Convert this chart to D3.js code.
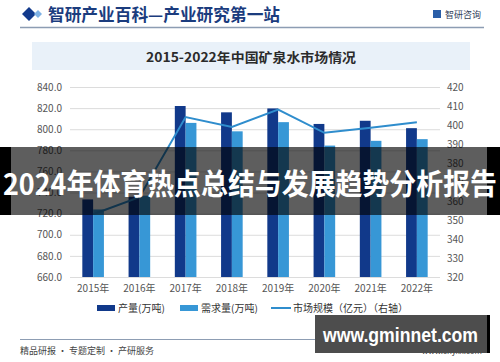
<!DOCTYPE html>
<html>
<head>
<meta charset="utf-8">
<script src="https://cdn.jsdelivr.net/npm/d3@7"></script>
<style>
  body { margin: 0; background: #fff; }
  svg { display: block; font-family: "Noto Sans CJK SC", "Noto Sans", sans-serif; }
</style>
</head>
<body>
<svg id="chart" width="500" height="362"></svg>
<script>
// 数据
const years = ["2015年", "2016年", "2017年", "2018年", "2019年", "2020年", "2021年", "2022年"];
const output = [733.5, 736, 822, 816, 819.7, 805, 808, 801];     // 产量(万吨)
const demand = [724, 737, 806, 798, 806.7, 784.5, 789, 790.6];  // 需求量(万吨)
const marketSize = [353, 362, 404.2, 399, 408.1, 395.9, 398.6, 401.4]; // 市场规模(亿元)
const leftTicks = [660, 680, 700, 720, 740, 760, 780, 800, 820, 840];
const rightTicks = [320, 330, 340, 350, 360, 370, 380, 390, 400, 410, 420];

const svg = d3.select("#chart");

// 顶部标题栏
svg.append("path").attr("d", "M22,14 L29,7 L36,14 L29,21 Z").attr("fill", "#123a8c");
svg.append("path").attr("d", "M34,14 L38,10 L42,14 L38,18 Z").attr("fill", "#7fb2e5");
svg.append("text").attr("x", 48).attr("y", 21)
  .attr("font-size", 17).attr("font-weight", "bold").attr("fill", "#1b3c7e")
  .attr("textLength", 232).attr("lengthAdjust", "spacingAndGlyphs")
  .text("智研产业百科—产业研究第一站");
svg.append("rect").attr("x", 433).attr("y", 10).attr("width", 8).attr("height", 8).attr("fill", "#2a5ea8");
svg.append("text").attr("x", 445).attr("y", 18)
  .attr("font-size", 9).attr("fill", "#33415a").text("智研咨询");
svg.append("line").attr("x1", 20).attr("x2", 484).attr("y1", 27.5).attr("y2", 27.5)
  .attr("stroke", "#8d9db3").attr("stroke-width", 1.5);

// 图表标题
svg.append("rect").attr("x", 32).attr("y", 42).attr("width", 438).attr("height", 28).attr("fill", "#e9f1f9");
svg.append("text").attr("x", 146).attr("y", 62)
  .attr("font-size", 13).attr("font-weight", "bold").attr("fill", "#2b2b2b")
  .attr("textLength", 210).attr("lengthAdjust", "spacingAndGlyphs")
  .text("2015-2022年中国矿泉水市场情况");

// 比例尺
const x = d3.scaleBand().domain(years).range([70, 440]);
const xInner = d3.scaleBand().domain(["output", "demand"]).range([-10.8, 10.8]);
const yL = d3.scaleLinear().domain([660, 840]).range([277, 87]);
const yR = d3.scaleLinear().domain([320, 420]).range([277, 87]);

// 网格线
svg.append("g").selectAll("line").data(leftTicks).join("line")
  .attr("x1", 70).attr("x2", 440)
  .attr("y1", d => yL(d) + 0.5).attr("y2", d => yL(d) + 0.5)
  .attr("stroke", "#dcdcdc");

// 坐标轴
const axL = svg.append("g").attr("transform", "translate(70,0)")
  .call(d3.axisLeft(yL).tickValues(leftTicks).tickFormat(d3.format(".1f")).tickSize(0).tickPadding(8));
const axR = svg.append("g").attr("transform", "translate(440,0)")
  .call(d3.axisRight(yR).tickValues(rightTicks).tickSize(0).tickPadding(7));
const axX = svg.append("g").attr("transform", "translate(0,277)")
  .call(d3.axisBottom(x).tickSize(0).tickPadding(8));
[axL, axR, axX].forEach(a => {
  a.select(".domain").remove();
  a.selectAll("text").attr("font-size", 10).attr("fill", "#555")
    .attr("font-family", "'Noto Sans CJK SC', sans-serif");
});

// 柱子
const groups = svg.append("g").selectAll("g").data(years).join("g")
  .attr("transform", d => `translate(${x(d) + x.bandwidth() / 2},0)`);
groups.append("rect")
  .attr("x", xInner("output")).attr("width", xInner.bandwidth())
  .attr("y", (d, i) => yL(output[i])).attr("height", (d, i) => yL(660) - yL(output[i]))
  .attr("fill", "#11398a");
groups.append("rect")
  .attr("x", xInner("demand")).attr("width", xInner.bandwidth())
  .attr("y", (d, i) => yL(demand[i])).attr("height", (d, i) => yL(660) - yL(demand[i]))
  .attr("fill", "#3797d6");

// 折线(右轴)
const line = d3.line()
  .x((d, i) => x(years[i]) + x.bandwidth() / 2)
  .y(d => yR(d));
svg.append("path").datum(marketSize)
  .attr("d", line).attr("fill", "none")
  .attr("stroke", "#2f8dcd").attr("stroke-width", 2);

// 图例
const legend = svg.append("g").attr("font-size", 10).attr("fill", "#333");
legend.append("rect").attr("x", 97).attr("y", 305).attr("width", 18).attr("height", 6).attr("fill", "#11398a");
legend.append("text").attr("x", 118).attr("y", 312).text("产量(万吨)");
legend.append("rect").attr("x", 180).attr("y", 305).attr("width", 18).attr("height", 6).attr("fill", "#3797d6");
legend.append("text").attr("x", 201).attr("y", 312).text("需求量(万吨)");
legend.append("line").attr("x1", 271).attr("x2", 291).attr("y1", 308).attr("y2", 308)
  .attr("stroke", "#2f8dcd").attr("stroke-width", 2);
legend.append("text").attr("x", 293).attr("y", 312).text("市场规模（亿元）（右轴）");

// 页脚
svg.append("line").attr("x1", 20).attr("x2", 484).attr("y1", 339.5).attr("y2", 339.5)
  .attr("stroke", "#8d9db3").attr("stroke-width", 1.2);
svg.append("text").attr("x", 20).attr("y", 354).attr("font-size", 9).attr("fill", "#444")
  .text("精品研报 · 专题定制 · 产研服务");
svg.append("text").attr("x", 482).attr("y", 354).attr("text-anchor", "end")
  .attr("font-size", 8).attr("fill", "#444").text("www.chyxx.com");

// 横幅覆盖层
svg.append("rect").attr("x", 0).attr("y", 147).attr("width", 11).attr("height", 68).attr("fill", "#000");
svg.append("rect").attr("x", 487).attr("y", 147).attr("width", 13).attr("height", 68).attr("fill", "#000");
svg.append("rect").attr("x", 11).attr("y", 147).attr("width", 476).attr("height", 68)
  .attr("fill", "#000").attr("fill-opacity", 0.63);
svg.append("text").attr("x", 3).attr("y", 195)
  .attr("font-size", 29).attr("font-weight", "bold").attr("fill", "#fff")
  .attr("textLength", 494).attr("lengthAdjust", "spacingAndGlyphs")
  .text("2024年体育热点总结与发展趋势分析报告");

// 右下角水印
svg.append("rect").attr("x", 315).attr("y", 315).attr("width", 172).attr("height", 38).attr("fill", "#4d4d4d");
svg.append("rect").attr("x", 487).attr("y", 315).attr("width", 3).attr("height", 38).attr("fill", "#000");
svg.append("text").attr("x", 323).attr("y", 342)
  .attr("font-family", "'Liberation Sans', Arial, sans-serif")
  .attr("font-size", 20).attr("font-weight", "bold").attr("fill", "#fff")
  .attr("textLength", 155).attr("lengthAdjust", "spacingAndGlyphs")
  .text("www.gminnet.com");
</script>
</body>
</html>
